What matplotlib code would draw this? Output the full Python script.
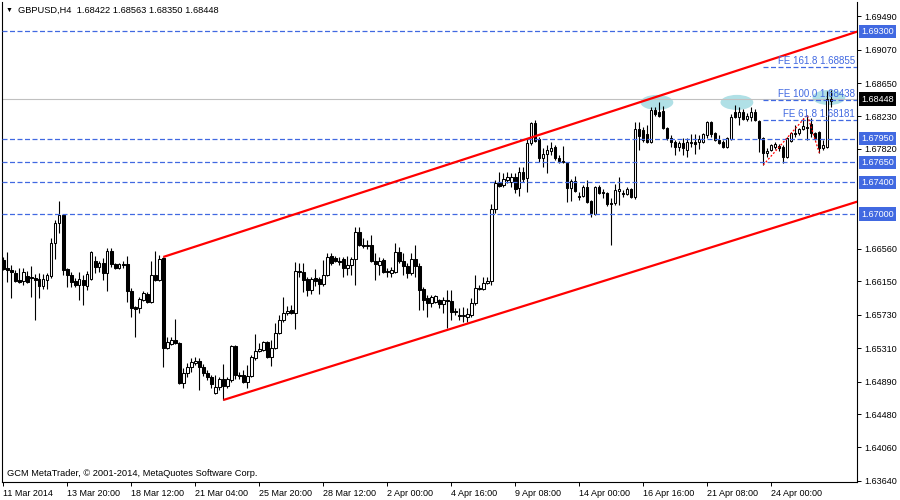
import matplotlib
matplotlib.use("Agg")
import matplotlib.pyplot as plt
from matplotlib.patches import Ellipse
import numpy as np

plt.rcParams['font.family'] = ['Liberation Sans', 'DejaVu Sans']

# GBPUSD H4 candles (open, high, low, close)
opens = [
    1.66421, 1.66320, 1.66295, 1.66257, 1.66169, 1.66156, 1.66219, 1.66207, 1.66194, 1.66182,
    1.66093, 1.66169, 1.66219, 1.66635, 1.66887, 1.66988, 1.66308, 1.66232, 1.66156, 1.66106,
    1.66169, 1.66093, 1.66182, 1.66408, 1.66333, 1.66383, 1.66257, 1.66534, 1.66370, 1.66320,
    1.66370, 1.66370, 1.66030, 1.65829, 1.65816, 1.65917, 1.65993, 1.65892, 1.66232, 1.66169,
    1.66446, 1.65312, 1.65363, 1.65413, 1.65375, 1.64871, 1.64997, 1.65073, 1.65123, 1.65148,
    1.65073, 1.64997, 1.64947, 1.64745, 1.64821, 1.64922, 1.64833, 1.64909, 1.65337, 1.64972,
    1.64972, 1.64884, 1.64959, 1.65186, 1.65274, 1.65287, 1.65388, 1.65199, 1.65312, 1.65501,
    1.65665, 1.65753, 1.65791, 1.65753, 1.66282, 1.66270, 1.66182, 1.66043, 1.66194, 1.66182,
    1.66119, 1.66232, 1.66471, 1.66446, 1.66408, 1.66434, 1.66320, 1.66358, 1.66434, 1.66774,
    1.66610, 1.66598, 1.66610, 1.66408, 1.66358, 1.66421, 1.66282, 1.66257, 1.66270, 1.66522,
    1.66408, 1.66345, 1.66257, 1.66434, 1.66345, 1.66055, 1.65942, 1.65879, 1.65892, 1.65917,
    1.65867, 1.65917, 1.65904, 1.65778, 1.65728, 1.65715, 1.65703, 1.65728, 1.65879, 1.66055,
    1.66055, 1.66131, 1.66156, 1.67064, 1.67391, 1.67366, 1.67429, 1.67404, 1.67467, 1.67328,
    1.67530, 1.67454, 1.67895, 1.68147, 1.67946, 1.67706, 1.67757, 1.67794, 1.67845, 1.67706,
    1.67668, 1.67643, 1.67328, 1.67417, 1.67227, 1.67227, 1.67341, 1.67164, 1.67001, 1.67341,
    1.67278, 1.67265, 1.67139, 1.67139, 1.67290, 1.67265, 1.67253, 1.67316, 1.67215, 1.68071,
    1.68059, 1.68009, 1.67908, 1.68311, 1.68286, 1.68298, 1.68084, 1.67958, 1.67908, 1.67845,
    1.67895, 1.67807, 1.67895, 1.67908, 1.67908, 1.67908, 1.67996, 1.68160, 1.68021, 1.67933,
    1.67908, 1.67845, 1.67946, 1.68286, 1.68223, 1.68286, 1.68198, 1.68223, 1.68286, 1.68172,
    1.67958, 1.67769, 1.67807, 1.67845, 1.67857, 1.67845, 1.67719, 1.67921, 1.68021, 1.68021,
    1.68071, 1.68097, 1.68135, 1.68021, 1.68034, 1.67832, 1.67845, 1.68422,
]
highs = [
    1.66459, 1.66522, 1.66358, 1.66295, 1.66320, 1.66320, 1.66282, 1.66345, 1.66245, 1.66257,
    1.66245, 1.66257, 1.66698, 1.66925, 1.67164, 1.67001, 1.66320, 1.66270, 1.66194, 1.66270,
    1.66232, 1.66282, 1.66534, 1.66471, 1.66408, 1.66446, 1.66572, 1.66572, 1.66383, 1.66383,
    1.66408, 1.66471, 1.66068, 1.65841, 1.65955, 1.66030, 1.66018, 1.66408, 1.66534, 1.66484,
    1.66459, 1.65451, 1.65451, 1.65678, 1.65388, 1.65060, 1.65123, 1.65186, 1.65199, 1.65186,
    1.65111, 1.65035, 1.64972, 1.64972, 1.64947, 1.65111, 1.64947, 1.65350, 1.65350, 1.65010,
    1.65035, 1.65098, 1.65224, 1.65489, 1.65375, 1.65400, 1.65400, 1.65413, 1.65627, 1.65728,
    1.65955, 1.65841, 1.65854, 1.66396, 1.66383, 1.66383, 1.66207, 1.66207, 1.66308, 1.66207,
    1.66421, 1.66509, 1.66509, 1.66471, 1.66459, 1.66459, 1.66471, 1.66459, 1.66837, 1.66837,
    1.66698, 1.66673, 1.66736, 1.66509, 1.66459, 1.66446, 1.66320, 1.66333, 1.66635, 1.66585,
    1.66509, 1.66383, 1.66509, 1.66610, 1.66383, 1.66081, 1.65980, 1.65980, 1.65980, 1.65930,
    1.65955, 1.66043, 1.66043, 1.65816, 1.65816, 1.65829, 1.65816, 1.65942, 1.66232, 1.66106,
    1.66207, 1.66207, 1.67127, 1.67429, 1.67530, 1.67517, 1.67530, 1.67517, 1.67517, 1.67593,
    1.67593, 1.67946, 1.68160, 1.68185, 1.67971, 1.67832, 1.67870, 1.67908, 1.67870, 1.67744,
    1.67857, 1.67656, 1.67442, 1.67479, 1.67278, 1.67366, 1.67429, 1.67177, 1.67353, 1.67366,
    1.67316, 1.67278, 1.67202, 1.67379, 1.67467, 1.67303, 1.67341, 1.67328, 1.68160, 1.68160,
    1.68097, 1.68122, 1.68349, 1.68349, 1.68412, 1.68361, 1.68097, 1.67996, 1.67933, 1.67921,
    1.67958, 1.67958, 1.68009, 1.68009, 1.67996, 1.68021, 1.68172, 1.68172, 1.68034, 1.67996,
    1.67933, 1.67971, 1.68261, 1.68374, 1.68349, 1.68324, 1.68273, 1.68349, 1.68324, 1.68185,
    1.67971, 1.67832, 1.67883, 1.67908, 1.67883, 1.67870, 1.67971, 1.68034, 1.68122, 1.68084,
    1.68210, 1.68248, 1.68210, 1.68034, 1.68046, 1.67933, 1.68550, 1.68563,
]
lows = [
    1.66295, 1.66144, 1.65942, 1.66144, 1.66131, 1.66106, 1.66131, 1.65955, 1.65665, 1.65942,
    1.66055, 1.66055, 1.66194, 1.66434, 1.66761, 1.66232, 1.66081, 1.66081, 1.66081, 1.65917,
    1.65854, 1.66043, 1.66169, 1.66257, 1.66270, 1.66169, 1.66030, 1.66333, 1.66308, 1.66308,
    1.66320, 1.65892, 1.65703, 1.65451, 1.65753, 1.65904, 1.65879, 1.65879, 1.66156, 1.66156,
    1.65073, 1.65300, 1.65350, 1.65363, 1.64859, 1.64808, 1.64947, 1.65010, 1.65098, 1.64783,
    1.64959, 1.64909, 1.64808, 1.64733, 1.64783, 1.64657, 1.64808, 1.64884, 1.64922, 1.64922,
    1.64871, 1.64808, 1.64947, 1.65161, 1.65262, 1.65274, 1.65186, 1.65085, 1.65300, 1.65489,
    1.65640, 1.65728, 1.65741, 1.65552, 1.66207, 1.66018, 1.65967, 1.65993, 1.66093, 1.65993,
    1.66093, 1.66219, 1.66358, 1.66396, 1.66358, 1.66207, 1.66232, 1.66232, 1.66106, 1.66598,
    1.66572, 1.66560, 1.66396, 1.66169, 1.66232, 1.66257, 1.66207, 1.66207, 1.66257, 1.66383,
    1.66232, 1.66194, 1.66232, 1.66207, 1.65791, 1.65791, 1.65703, 1.65829, 1.65879, 1.65816,
    1.65753, 1.65564, 1.65665, 1.65728, 1.65665, 1.65640, 1.65640, 1.65703, 1.65854, 1.66043,
    1.66043, 1.66119, 1.66106, 1.67013, 1.67341, 1.67341, 1.67391, 1.67341, 1.67265, 1.67227,
    1.67404, 1.67278, 1.67870, 1.67908, 1.67656, 1.67593, 1.67517, 1.67744, 1.67681, 1.67643,
    1.67643, 1.67152, 1.67164, 1.67278, 1.67177, 1.67215, 1.67139, 1.66963, 1.66988, 1.67253,
    1.67202, 1.67101, 1.66610, 1.67114, 1.67114, 1.67215, 1.67240, 1.67202, 1.67190, 1.67807,
    1.67908, 1.67895, 1.67895, 1.68235, 1.68223, 1.68071, 1.67933, 1.67845, 1.67744, 1.67794,
    1.67744, 1.67719, 1.67845, 1.67757, 1.67819, 1.67895, 1.67958, 1.67971, 1.67921, 1.67883,
    1.67832, 1.67832, 1.67933, 1.68210, 1.68122, 1.68185, 1.68172, 1.68172, 1.68172, 1.67782,
    1.67618, 1.67719, 1.67794, 1.67819, 1.67794, 1.67643, 1.67706, 1.67908, 1.67971, 1.67996,
    1.68059, 1.67933, 1.67971, 1.67933, 1.67769, 1.67807, 1.67832, 1.68350,
]
closes = [
    1.66308, 1.66295, 1.66270, 1.66156, 1.66144, 1.66270, 1.66144, 1.66194, 1.66169, 1.66093,
    1.66182, 1.66232, 1.66635, 1.66887, 1.66988, 1.66295, 1.66232, 1.66144, 1.66106, 1.66182,
    1.66106, 1.66245, 1.66522, 1.66333, 1.66383, 1.66257, 1.66534, 1.66370, 1.66320, 1.66370,
    1.66358, 1.66030, 1.65816, 1.65803, 1.65930, 1.66005, 1.65892, 1.66232, 1.66169, 1.66434,
    1.65312, 1.65388, 1.65413, 1.65375, 1.64871, 1.64997, 1.65073, 1.65136, 1.65148, 1.65073,
    1.64997, 1.64947, 1.64859, 1.64821, 1.64922, 1.64833, 1.64922, 1.65337, 1.64972, 1.64959,
    1.64884, 1.64959, 1.65199, 1.65274, 1.65300, 1.65388, 1.65199, 1.65312, 1.65501, 1.65665,
    1.65753, 1.65778, 1.65753, 1.66282, 1.66270, 1.66169, 1.66043, 1.66182, 1.66156, 1.66119,
    1.66232, 1.66459, 1.66383, 1.66408, 1.66396, 1.66320, 1.66358, 1.66434, 1.66774, 1.66610,
    1.66598, 1.66610, 1.66408, 1.66370, 1.66408, 1.66270, 1.66270, 1.66295, 1.66522, 1.66408,
    1.66345, 1.66257, 1.66434, 1.66345, 1.66043, 1.65917, 1.65879, 1.65955, 1.65967, 1.65867,
    1.65917, 1.65904, 1.65766, 1.65766, 1.65715, 1.65728, 1.65741, 1.65879, 1.66068, 1.66068,
    1.66131, 1.66156, 1.67064, 1.67391, 1.67353, 1.67442, 1.67467, 1.67467, 1.67316, 1.67530,
    1.67442, 1.67895, 1.68147, 1.67921, 1.67706, 1.67757, 1.67807, 1.67832, 1.67706, 1.67668,
    1.67656, 1.67328, 1.67417, 1.67290, 1.67215, 1.67341, 1.67152, 1.67013, 1.67341, 1.67265,
    1.67265, 1.67127, 1.67127, 1.67303, 1.67316, 1.67253, 1.67316, 1.67215, 1.68071, 1.67983,
    1.67933, 1.67908, 1.68311, 1.68261, 1.68235, 1.68084, 1.67958, 1.67908, 1.67845, 1.67895,
    1.67832, 1.67908, 1.67908, 1.67883, 1.67946, 1.68009, 1.68160, 1.68009, 1.67933, 1.67895,
    1.67845, 1.67958, 1.68223, 1.68223, 1.68286, 1.68198, 1.68235, 1.68286, 1.68185, 1.67958,
    1.67769, 1.67794, 1.67870, 1.67883, 1.67832, 1.67719, 1.67958, 1.68021, 1.68009, 1.68071,
    1.68109, 1.68084, 1.68021, 1.67958, 1.67832, 1.67870, 1.68450, 1.68448,
]

date_ticks = [0, 16, 32, 48, 64, 80, 96, 112, 128, 144, 160, 176, 192]
date_labels = ["11 Mar 2014", "13 Mar 20:00", "18 Mar 12:00", "21 Mar 04:00",
               "25 Mar 20:00", "28 Mar 12:00", "2 Apr 00:00", "4 Apr 16:00",
               "9 Apr 08:00", "14 Apr 00:00", "16 Apr 16:00", "21 Apr 08:00",
               "24 Apr 00:00"]
price_ticks = [1.69490, 1.69070, 1.68650, 1.68230, 1.67820, 1.66560, 1.66150,
               1.65730, 1.65310, 1.64890, 1.64480, 1.64060, 1.63640]

hlines = [1.69300, 1.67950, 1.67650, 1.67400, 1.67000]
last_price = 1.68448
fe_levels = [1.68855, 1.68438, 1.68181]
fe_names = ["FE 161.8", "FE 100.0", "FE 61.8"]
fe_points = [190, 201, 204]  # low, high, low

# channel anchors (bar index, price)
upper_idx = [40, 133]
upper_px = [1.66459, 1.67981]
lower_idx = [55, 111]
lower_px = [1.64657, 1.65540]

# highlighted tops (bar index, price)
marks_idx = [163.4, 183.4, 206.4]
marks_px = [1.68406, 1.68406, 1.68468]

blue = '#4169e1'

fig = plt.figure(figsize=(9, 5), dpi=100)
ax = fig.add_axes([2/900, 18/500, 855/900, 480/500])
ax.set_xlim(-0.325, 213.425)
ax.set_ylim(1.63624, 1.69671)

n = len(closes)
x = np.arange(n)
o = np.array(opens); h = np.array(highs); l = np.array(lows); c = np.array(closes)

for i, p in zip(marks_idx, marks_px):
    ax.add_patch(Ellipse((i, p), 8.2, 0.0019, facecolor='#b0e0e6', edgecolor='none', zorder=1))

ax.vlines(x, l, h, color='black', lw=0.8, zorder=2)
up = c >= o
bottom = np.minimum(o, c)
height = np.maximum(np.abs(c - o), 0.00002)
ax.bar(x[up], height[up], bottom=bottom[up], width=0.6, facecolor='white',
       edgecolor='black', lw=0.75, zorder=3)
ax.bar(x[~up], height[~up], bottom=bottom[~up], width=0.6, facecolor='black',
       edgecolor='black', lw=0.75, zorder=3)

ax.axhline(last_price, color='#c0c0c0', lw=0.8, zorder=1.5)
for lv in hlines:
    ax.axhline(lv, color=blue, lw=0.9, dashes=(4, 2), zorder=4)

for lv, nm in zip(fe_levels, fe_names):
    ax.plot([fe_points[0], 213.5], [lv, lv], color=blue, lw=0.9, dashes=(4, 2), zorder=4)
    ax.text(212.9, lv + 0.0001, f"{nm} {lv:.5f}", color=blue, fontsize=7,
            ha='right', va='bottom', zorder=5)

ax.plot(fe_points, [lows[fe_points[0]], highs[fe_points[1]], lows[fe_points[2]]],
        color='red', lw=0.9, ls=(0, (1.5, 1.5)), zorder=4)

for ix, px in ((upper_idx, upper_px), (lower_idx, lower_px)):
    slope = (px[1] - px[0]) / (ix[1] - ix[0])
    xe = 214
    ax.plot([ix[0], xe], [px[0], px[0] + slope * (xe - ix[0])], color='red', lw=1.6,
            solid_capstyle='butt', zorder=4)

# axes styling
ax.spines['top'].set_visible(False)
for s in ('left', 'bottom', 'right'):
    ax.spines[s].set_linewidth(0.8)
ax.yaxis.tick_right()
ax.set_yticks(price_ticks)
ax.set_yticklabels([f"{v:.5f}" for v in price_ticks])
ax.tick_params(axis='y', length=3, width=0.7, pad=2, labelsize=6.5)
ax.set_xticks(date_ticks)
ax.set_xticklabels(date_labels)
ax.tick_params(axis='x', length=3, width=0.7, pad=2, labelsize=6.5)
for t in ax.get_xticklabels():
    t.set_horizontalalignment('left')

tr = ax.get_yaxis_transform()
for lv in hlines:
    ax.text(1.0047, lv, f"{lv:.5f}", transform=tr, color='white', fontsize=6.5, va='center',
            ha='left', clip_on=False, zorder=6,
            bbox=dict(boxstyle='square,pad=0.25', facecolor=blue, edgecolor='none'))
ax.text(1.0047, last_price, f"{last_price:.5f}", transform=tr, color='white', fontsize=6.5,
        va='center', ha='left', clip_on=False, zorder=6,
        bbox=dict(boxstyle='square,pad=0.25', facecolor='black', edgecolor='none'))

fig.text(6/900, 1 - 10/500, "\u25BC", fontsize=5, va='center', ha='left')
fig.text(18/900, 1 - 10/500,
         f"GBPUSD,H4  {opens[-1]:.5f} {highs[-1]:.5f} {lows[-1]:.5f} {closes[-1]:.5f}",
         fontsize=6.7, va='center', ha='left')
fig.text(7/900, 1 - 474/500, "GCM MetaTrader, \u00A9 2001-2014, MetaQuotes Software Corp.",
         fontsize=6.7, va='center', ha='left')

fig.savefig("out.png", dpi=100)
